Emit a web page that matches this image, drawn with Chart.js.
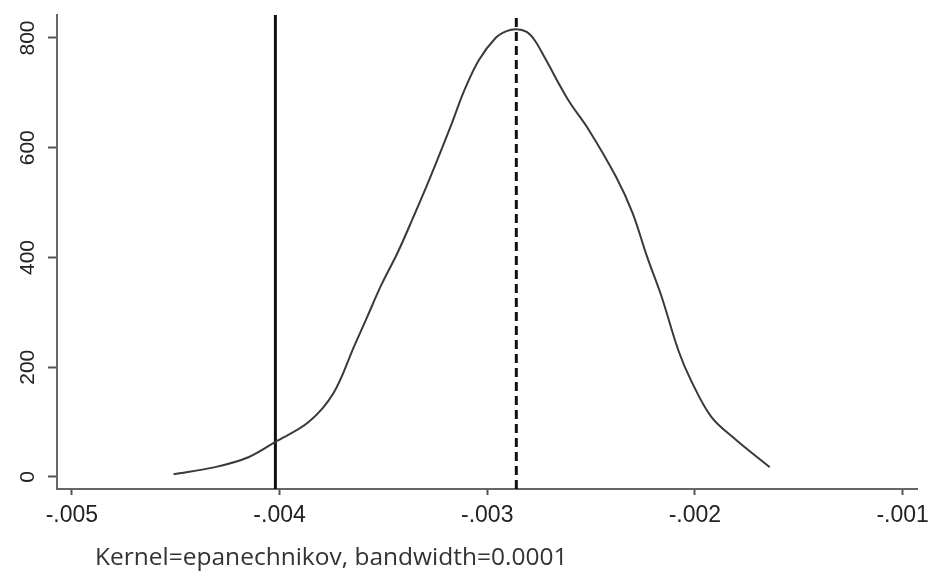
<!DOCTYPE html>
<html>
<head>
<meta charset="utf-8">
<script src="https://cdn.jsdelivr.net/npm/chart.js@4.4.1/dist/chart.umd.min.js"></script>
<style>
  html, body { margin: 0; padding: 0; background: #fff; }
  #wrap { position: relative; width: 936px; height: 579px; }
  #caption {
    position: absolute; left: 95px; top: 539px;
    font-family: "Open Sans", sans-serif; font-size: 24.5px; color: #333;
    white-space: nowrap;
  }
</style>
</head>
<body>
<div id="wrap">
  <canvas id="kdensity" width="936" height="579"></canvas>
  <div id="caption">Kernel=epanechnikov, bandwidth=0.0001</div>
</div>
<script>
// density curve
const densX = [-0.00451, -0.00431, -0.00415, -0.00402, -0.00386, -0.00374, -0.00364, -0.00358,
  -0.00351, -0.00343, -0.00336, -0.00328, -0.00317, -0.00311, -0.00304, -0.00296, -0.00291,
  -0.00286, -0.00281, -0.00277, -0.00272, -0.00261, -0.00251, -0.00238, -0.00230, -0.00223,
  -0.00216, -0.00208, -0.00202, -0.00192, -0.00180, -0.00164];
const densY = [5, 18, 36, 64, 100, 153, 239, 290,
  350, 410, 470, 541, 645, 705, 760, 800, 812,
  816, 811, 795, 762, 687, 632, 547, 481, 401,
  328, 231, 177, 109, 67, 18];

// reference lines
const solidLineX = -0.00402;
const dashedLineX = -0.00286;

// axis ticks
const xTicks = [-0.005, -0.004, -0.003, -0.002, -0.001];
const yTicks = [0, 200, 400, 600, 800];
const xMin = -0.0050716, xMax = -0.000928;
const yMin = -21.9, yMax = 841.9;

const curve = densX.map((x, i) => ({ x: x, y: densY[i] }));

const ctx = document.getElementById('kdensity').getContext('2d');
const chart = new Chart(ctx, {
    type: 'line',
    data: {
        datasets: [{
            data: curve,
            borderColor: '#3a3a3a',
            borderWidth: 2,
            pointRadius: 0,
            tension: 0.35,
            fill: false
        },
        {
            data: [{ x: solidLineX, y: yMin }, { x: solidLineX, y: yMax }],
            borderColor: '#111',
            borderWidth: 3,
            pointRadius: 0
        },
        {
            data: [{ x: dashedLineX, y: yMin }, { x: dashedLineX, y: yMax }],
            borderColor: '#111',
            borderWidth: 3,
            borderDash: [9, 5],
            pointRadius: 0
        }]
    },
    options: {
        responsive: false,
        animation: false,
        layout: { padding: { top: 15, right: 11, left: 0, bottom: 0 } },
        plugins: { legend: { display: false }, tooltip: { enabled: false } },
        scales: {
            x: {
                type: 'linear',
                min: xMin,
                max: xMax,
                afterBuildTicks: (s) => { s.ticks = xTicks.map(v => ({ value: v })); },
                afterFit: (s) => { s.height = 90; },
                grid: { drawOnChartArea: false, drawTicks: true, tickLength: 6, tickColor: '#555', tickWidth: 2 },
                border: { display: true, color: '#666', width: 2 },
                ticks: {
                    padding: 7,
                    color: '#222',
                    font: { family: 'Liberation Sans, Arial, sans-serif', size: 23 },
                    maxRotation: 0,
                    callback: (v) => v.toFixed(3).replace('0.', '.')
                }
            },
            y: {
                type: 'linear',
                min: yMin,
                max: yMax,
                afterBuildTicks: (s) => { s.ticks = yTicks.map(v => ({ value: v })); },
                afterFit: (s) => { s.width = 57; },
                grid: { drawOnChartArea: false, drawTicks: true, tickLength: 9, tickColor: '#555', tickWidth: 2 },
                border: { display: true, color: '#666', width: 2 },
                ticks: {
                    padding: 2,
                    minRotation: 90,
                    maxRotation: 90,
                    crossAlign: 'center',
                    color: '#222',
                    font: { family: 'Liberation Sans, Arial, sans-serif', size: 21 }
                }
            }
        }
    }
});
</script>
</body>
</html>
